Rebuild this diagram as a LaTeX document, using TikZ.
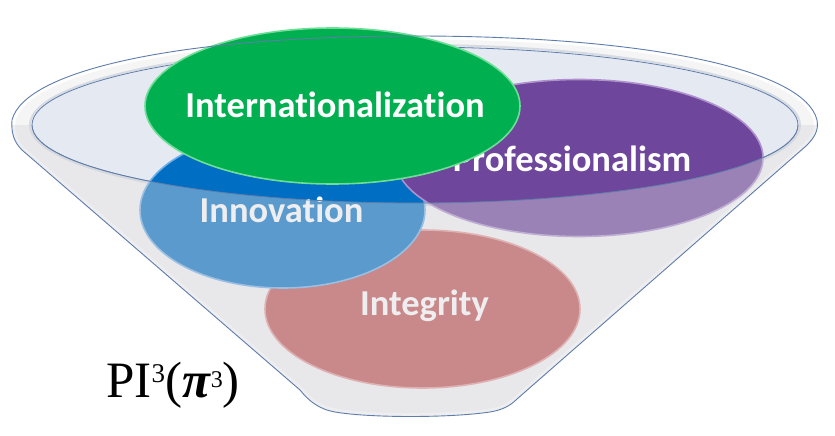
\documentclass[tikz,border=0pt]{standalone}
\usepackage{fontspec}
\setmainfont{Liberation Serif}
\newfontfamily\bubblefont[Ligatures=NoCommon]{Carlito}
\usetikzlibrary{shapes.geometric,calc}

% palette
\definecolor{bodyfill}{RGB}{245,245,245}
\definecolor{innerfill}{RGB}{228,233,242}
\definecolor{innershade}{RGB}{214,218,226}
\definecolor{outline}{RGB}{95,125,170}
\definecolor{glass}{RGB}{215,215,220}
\definecolor{cgreen}{RGB}{0,176,80}
\definecolor{cgreenrim}{RGB}{110,222,150}
\definecolor{cblue}{RGB}{0,110,195}
\definecolor{cbluerim}{RGB}{110,175,232}
\definecolor{cpurple}{RGB}{110,70,155}
\definecolor{cpurplerim}{RGB}{175,145,205}
\definecolor{cred}{RGB}{192,80,77}
\definecolor{credrim}{RGB}{228,150,150}

% silhouette of the glass funnel (rim and cone)
\def\funnelpath{(415,36) .. controls (650,36) and (805,70) .. (817,120)
  .. controls (819,131) and (814,138) .. (806,146) -- (517,399)
  .. controls (510,406) and (502,410) .. (490,412)
  .. controls (450,418) and (370,418) .. (335,412)
  .. controls (318,409) and (308,400) .. (300,390) -- (22,150)
  .. controls (14,142) and (11,133) .. (12,120)
  .. controls (25,70) and (180,36) .. (415,36) -- cycle}

\begin{document}
\begin{tikzpicture}[x=1pt,y=-1pt,
  bubble/.style={ellipse, inner sep=0pt, line width=1.6pt},
  caption/.style={font=\bubblefont\bfseries\fontsize{36.5}{40}\selectfont,
    text=white, inner sep=0pt, anchor=base},
  rimline/.style={draw=outline, line width=0.8pt}]
\useasboundingbox (0,0) rectangle (835,436);

% back of the funnel: body, glass edge highlight, opening
\fill[bodyfill] \funnelpath;
\draw[white, line width=7pt, line join=round] \funnelpath;
\fill[innerfill] (415,125) ellipse [x radius=383, y radius=78];
\draw[innershade, line width=2pt] (415,125) ellipse [x radius=385, y radius=80];
\draw[rimline] (415,125) ellipse [x radius=383, y radius=78];

% the four values
\node[bubble, fill=cred, draw=credrim, minimum width=315pt, minimum height=158pt]
  (integ) at (422.5,309) {};
\node[caption] (integtxt) at ($(integ)+(2,6)$) {Integrity};

\node[bubble, fill=cblue, draw=cbluerim, minimum width=285pt, minimum height=156pt]
  (innov) at (282.5,210) {};
\node[caption] (innovtxt) at ($(innov)+(-1,12)$) {Innovation};

\node[bubble, fill=cpurple, draw=cpurplerim, minimum width=368pt, minimum height=157pt]
  (prof) at (579,158) {};
\node[caption] (proftxt) at ($(prof)+(-7,13)$) {Professionalism};

\node[bubble, fill=cgreen, draw=cgreenrim, minimum width=375pt, minimum height=156pt]
  (intl) at (332.5,106) {};
\node[caption] (intltxt) at ($(intl)+(2.5,11)$) {Internationalization};

% front wall of the funnel, seen through
\begin{scope}
  \clip (0,125) rectangle (835,436);
  \fill[glass, fill opacity=0.42, even odd rule] \funnelpath
    (415,125) ellipse [x radius=383, y radius=78];
\end{scope}
\draw[rimline] (32,125) arc [start angle=180, end angle=0, x radius=383, y radius=78];
\draw[outline, line width=0.9pt, line join=round] \funnelpath;

% title
\node[anchor=base west, inner sep=0pt, font=\fontsize{51}{51}\selectfont] (title) at (106,397)
  {PI\raisebox{15pt}{\fontsize{27}{27}\selectfont 3}(\textbf{\textit{π}}\raisebox{10pt}{\fontsize{24}{24}\selectfont 3})};
\end{tikzpicture}
\end{document}
